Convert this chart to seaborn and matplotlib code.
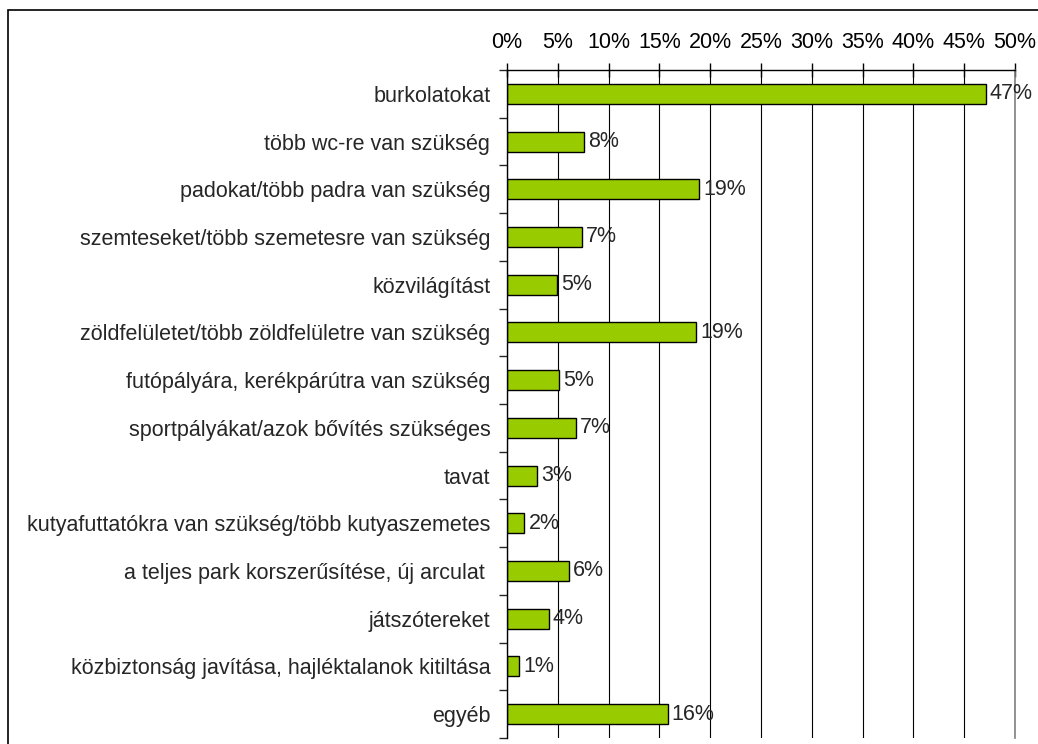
import matplotlib
matplotlib.use("Agg")
import matplotlib.pyplot as plt
import matplotlib.patches as mpatches
from matplotlib.ticker import PercentFormatter
import pandas as pd
import seaborn as sns

categories = [
    "burkolatokat",
    "több wc-re van szükség",
    "padokat/több padra van szükség",
    "szemteseket/több szemetesre van szükség",
    "közvilágítást",
    "zöldfelületet/több zöldfelületre van szükség",
    "futópályára, kerékpárútra van szükség",
    "sportpályákat/azok bővítés szükséges",
    "tavat",
    "kutyafuttatókra van szükség/több kutyaszemetes",
    "a teljes park korszerűsítése, új arculat ",
    "játszótereket",
    "közbiztonság javítása, hajléktalanok kitiltása",
    "egyéb",
]
shares = [47.1, 7.6, 18.9, 7.4, 4.9, 18.6, 5.1, 6.8, 3.0, 1.7, 6.1, 4.1, 1.2, 15.8]
x_ticks = [0, 5, 10, 15, 20, 25, 30, 35, 40, 45, 50]

df = pd.DataFrame({"cat": categories, "share": shares})

FS = 15.5

sns.set_style("white")
plt.rcParams["font.family"] = ["Liberation Sans", "DejaVu Sans"]
plt.rcParams["font.size"] = FS

fig = plt.figure(figsize=(10.38, 7.44), dpi=100)
ax = fig.add_axes([507 / 1038, 1 - 738 / 744, 508 / 1038, 668 / 744])

sns.barplot(data=df, x="share", y="cat", orient="h", color="#99CC00",
            saturation=1, edgecolor="black", linewidth=1, width=0.42, ax=ax)

# value labels next to the bars
ax.bar_label(ax.containers[0], labels=[f"{v:.0f}%" for v in shares],
             padding=3, fontsize=FS)

ax.set_xlim(0, 50)
ax.set_xticks(x_ticks)
ax.xaxis.set_major_formatter(PercentFormatter(decimals=0))
ax.xaxis.tick_top()
ax.tick_params(axis="x", direction="inout", length=10, width=1, pad=7,
               labelsize=FS, colors="black")
ax.grid(axis="x", color="black", linewidth=0.8)
ax.set_axisbelow(True)

# y ticks between categories, like the original
ax.set_yticks(range(len(categories)))
ax.set_yticklabels(categories)
ax.set_yticks([i + 0.5 for i in range(-1, len(categories))], minor=True)
ax.tick_params(axis="y", which="major", length=0, pad=12, labelsize=FS)
ax.tick_params(axis="y", which="minor", length=6, width=1, direction="out",
               left=True)
ax.set_xlabel("")
ax.set_ylabel("")

ax.spines["bottom"].set_visible(False)
ax.spines["right"].set_color("#808080")
ax.spines["right"].set_linewidth(1.2)
for side in ["left", "top"]:
    ax.spines[side].set_color("black")
    ax.spines[side].set_linewidth(1)

# outer frame of the chart area
frame = mpatches.Rectangle((8 / 1038, -0.05), 1.2, 1 - 10 / 744 + 0.05,
                           transform=fig.transFigure, fill=False,
                           edgecolor="black", linewidth=1.2, clip_on=False)
fig.patches.append(frame)

fig.savefig("out.png", dpi=100)
